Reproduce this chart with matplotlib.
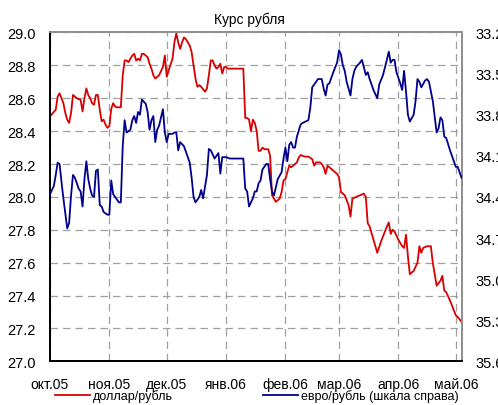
import matplotlib
matplotlib.use('Agg')
import matplotlib.pyplot as plt
import matplotlib.dates as mdates
from matplotlib.ticker import MultipleLocator, FormatStrFormatter
import numpy as np
import pandas as pd

plt.rcParams['font.family'] = ['Liberation Sans', 'DejaVu Sans']

title = 'Курс рубля'
start_date = '2005-10-01'
end_day = 215.1
month_ticks = ['2005-10-01', '2005-11-01', '2005-12-01', '2006-01-01',
               '2006-02-01', '2006-03-01', '2006-04-01', '2006-05-01']
month_labels = ['окт.05', 'ноя.05', 'дек.05', 'янв.06',
                'фев.06', 'мар.06', 'апр.06', 'май.06']
usd_label = 'доллар/рубль'
eur_label = 'евро/рубль (шкала справа)'

# days since 2005-10-01
usd_days = [0, 3, 4, 5, 7, 8, 9, 10, 11, 12, 14, 16, 17, 18, 19, 20, 21, 22, 23, 24,
            25, 26, 27, 28, 29, 30, 31, 32, 33, 34, 35, 37, 38, 39, 40, 41, 42, 43, 44, 45,
            46, 47, 48, 49, 50, 51, 52, 53, 54, 55, 57, 59, 60, 61, 62, 64, 65, 66, 67, 68,
            69, 70, 71, 72, 73, 74, 75, 76, 77, 78, 79, 81, 82, 83, 84, 85, 86, 87, 88, 89,
            90, 91, 92, 93, 101, 102, 103, 104, 105, 106, 107, 108, 109, 110, 111, 112, 114, 115, 116, 117,
            118, 120, 121, 122, 123, 124, 125, 126, 128, 129, 130, 131, 133, 135, 137, 138, 139, 141, 142, 143,
            144, 145, 146, 148, 150, 151, 152, 154, 156, 157, 158, 160, 162, 164, 165, 166, 167, 169, 171, 173,
            175, 177, 178, 179, 180, 182, 184, 185, 186, 187, 188, 190, 192, 193, 194, 195, 197, 199, 200, 202,
            204, 205, 206, 207, 209, 211, 212, 213, 215]
usd_rate = [28.49, 28.53, 28.61, 28.63, 28.57, 28.51, 28.47, 28.45, 28.51, 28.62, 28.60, 28.59, 28.52, 28.60, 28.66, 28.62, 28.60, 28.57, 28.56, 28.62,
            28.62, 28.53, 28.46, 28.47, 28.44, 28.42, 28.43, 28.535, 28.57, 28.55, 28.545, 28.545, 28.74, 28.83, 28.83, 28.82, 28.84, 28.86, 28.87, 28.83,
            28.84, 28.83, 28.87, 28.87, 28.86, 28.85, 28.81, 28.78, 28.74, 28.72, 28.74, 28.79, 28.86, 28.73, 28.77, 28.84, 28.94, 28.995, 28.94, 28.90,
            28.94, 28.97, 28.96, 28.94, 28.92, 28.88, 28.80, 28.72, 28.67, 28.68, 28.67, 28.64, 28.66, 28.74, 28.83, 28.83, 28.80, 28.78, 28.79, 28.81,
            28.75, 28.79, 28.79, 28.78, 28.78, 28.48, 28.48, 28.47, 28.40, 28.47, 28.45, 28.40, 28.28, 28.28, 28.30, 28.29, 28.29, 28.25, 28.01, 27.99,
            27.97, 27.99, 28.03, 28.10, 28.11, 28.15, 28.19, 28.18, 28.20, 28.21, 28.24, 28.255, 28.245, 28.245, 28.23, 28.19, 28.21, 28.21, 28.20, 28.18,
            28.14, 28.19, 28.18, 28.16, 28.14, 28.12, 28.03, 28.01, 27.95, 27.88, 27.99, 28.00, 28.01, 28.02, 28.00, 27.84, 27.82, 27.74, 27.66, 27.73,
            27.79, 27.845, 27.775, 27.80, 27.79, 27.74, 27.70, 27.69, 27.77, 27.64, 27.53, 27.55, 27.60, 27.70, 27.66, 27.69, 27.70, 27.70, 27.60, 27.46,
            27.49, 27.52, 27.43, 27.42, 27.37, 27.31, 27.28, 27.27, 27.24]

eur_days = [0, 2, 3, 4, 5, 6, 7, 8, 9, 10, 11, 12, 13, 14, 15, 16, 17, 18, 19, 20,
            21, 22, 23, 24, 25, 26, 27, 28, 30, 31, 32, 33, 35, 36, 37, 38, 39, 40, 42, 43,
            44, 45, 46, 47, 48, 50, 51, 52, 53, 54, 55, 56, 57, 58, 59, 60, 61, 62, 64, 65,
            66, 67, 68, 70, 71, 73, 74, 75, 76, 78, 79, 80, 82, 83, 84, 86, 88, 89, 90, 92,
            94, 101, 102, 103, 104, 105, 106, 107, 108, 109, 110, 111, 113, 114, 115, 116, 117, 118, 119, 121,
            122, 123, 124, 125, 126, 127, 128, 129, 131, 132, 135, 136, 137, 138, 139, 140, 142, 143, 144, 145,
            146, 148, 150, 151, 152, 153, 154, 155, 157, 158, 159, 160, 162, 163, 165, 166, 167, 169, 171, 172,
            174, 176, 177, 178, 179, 180, 181, 183, 184, 185, 186, 187, 188, 190, 191, 192, 193, 194, 196, 197,
            198, 200, 202, 203, 204, 205, 206, 207, 209, 211, 212, 213, 215]
eur_rate = [34.38, 34.32, 34.24, 34.15, 34.16, 34.29, 34.41, 34.52, 34.63, 34.59, 34.39, 34.24, 34.26, 34.30, 34.34, 34.36, 34.47, 34.27, 34.14, 34.27,
            34.34, 34.39, 34.40, 34.21, 34.20, 34.46, 34.47, 34.51, 34.53, 34.53, 34.28, 34.38, 34.42, 34.44, 34.44, 34.03, 33.84, 33.93, 33.91, 33.84,
            33.81, 33.86, 33.78, 33.80, 33.69, 33.72, 33.78, 33.91, 33.84, 33.81, 34.00, 33.91, 33.88, 33.82, 33.76, 33.93, 34.00, 33.94, 33.94, 33.93,
            33.93, 34.06, 34.00, 34.03, 34.07, 34.15, 34.26, 34.40, 34.44, 34.40, 34.35, 34.41, 34.24, 34.05, 34.06, 34.12, 34.08, 34.23, 34.11, 34.11,
            34.12, 34.12, 34.34, 34.36, 34.47, 34.44, 34.41, 34.36, 34.36, 34.30, 34.28, 34.20, 34.16, 34.16, 34.27, 34.36, 34.39, 34.33, 34.27, 34.22,
            34.12, 34.04, 34.14, 34.02, 34.00, 34.04, 34.04, 33.96, 33.87, 33.86, 33.84, 33.75, 33.60, 33.58, 33.56, 33.54, 33.54, 33.61, 33.66, 33.58,
            33.57, 33.49, 33.42, 33.33, 33.36, 33.44, 33.48, 33.56, 33.66, 33.54, 33.48, 33.45, 33.42, 33.40, 33.51, 33.49, 33.54, 33.62, 33.68, 33.58,
            33.51, 33.40, 33.34, 33.42, 33.40, 33.40, 33.49, 33.57, 33.62, 33.48, 33.63, 33.80, 33.85, 33.80, 33.70, 33.54, 33.56, 33.60, 33.55, 33.54,
            33.56, 33.70, 33.93, 33.90, 33.82, 33.84, 33.96, 33.97, 34.06, 34.14, 34.18, 34.18, 34.26]

usd_color = '#D90000'
eur_color = '#00008C'
grid_color = '#A0A0A0'

start = pd.Timestamp(start_date)
usd_x = start + pd.to_timedelta(usd_days, unit='D')
eur_x = start + pd.to_timedelta(eur_days, unit='D')
tick_x = pd.to_datetime(month_ticks)

fig = plt.figure(figsize=(4.98, 4.06), dpi=100)
ax = fig.add_axes([0.1004, 0.1076, 0.8267, 0.8099])
ax2 = ax.twinx()

l1, = ax.plot(usd_x, usd_rate, color=usd_color, lw=1.3, zorder=3)
l2, = ax2.plot(eur_x, eur_rate, color=eur_color, lw=1.3, zorder=3)

ax.set_xlim(start, start + pd.Timedelta(days=end_day))
ax.set_ylim(27.0, 29.0)
ax.yaxis.set_major_locator(MultipleLocator(0.2))
ax.yaxis.set_major_formatter(FormatStrFormatter('%.1f'))
ax.set_xticks(tick_x)
ax.set_xticklabels(month_labels)

ax2.set_ylim(35.6, 33.2)
ax2.set_yticks(np.arange(33.2, 35.61, 0.3))
ax2.yaxis.set_major_formatter(FormatStrFormatter('%.1f'))

ax.grid(True, color=grid_color, linestyle=(0, (6, 4)), linewidth=0.9)
ax.set_axisbelow(True)

ax.tick_params(axis='y', length=0, pad=10, labelsize=10.5)
ax.tick_params(axis='x', length=0, pad=11, labelsize=10)
ax2.tick_params(axis='y', length=0, pad=10, labelsize=10.5)

for a in (ax, ax2):
    a.spines['left'].set_color('black')
    a.spines['bottom'].set_color('black')
    a.spines['top'].set_color('#909090')
    a.spines['right'].set_color('#909090')
    for s in a.spines.values():
        s.set_linewidth(1.3)

fig.text(0.5, 1 - 20 / 406, title, ha='center', va='center', fontsize=10)

fig.legend([l1, l2], [usd_label, eur_label], ncol=2, loc='center left',
           bbox_to_anchor=(55 / 498, 1 - 397 / 406), frameon=False, fontsize=9,
           handlelength=2.8, handletextpad=0.25, columnspacing=7.2,
           borderpad=0, borderaxespad=0)

fig.savefig('out.png', dpi=100)
